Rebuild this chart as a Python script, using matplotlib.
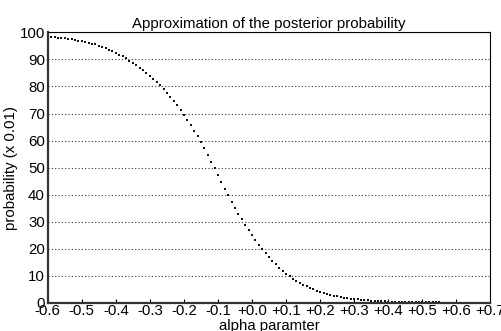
import numpy as np
import matplotlib
matplotlib.use('Agg')
import matplotlib.pyplot as plt

plt.rcParams['font.family'] = ['Liberation Sans', 'DejaVu Sans']

# alpha from -0.60 to +0.70 in steps of 0.01
alpha = np.round(np.arange(-60, 71) / 100.0, 2)
prob = [98.4, 98.3, 98.2, 98.1, 97.9, 97.8, 97.6, 97.4, 97.2, 97.0,
        96.8, 96.5, 96.2, 95.9, 95.6, 95.0, 94.6, 94.1, 93.6, 93.0,
        92.4, 91.8, 91.1, 90.4, 89.6, 88.8, 87.9, 87.0, 86.0, 85.0,
        83.9, 82.8, 81.6, 80.4, 79.0, 77.6, 76.1, 74.6, 73.0, 71.3,
        69.6, 67.7, 65.7, 63.6, 61.5, 59.4, 57.1, 54.7, 52.2, 49.7,
        47.2, 44.7, 42.2, 39.7, 37.4, 35.1, 32.9, 30.8, 28.7, 26.8,
        24.9, 23.1, 21.4, 19.8, 18.3, 16.9, 15.5, 14.2, 13.0, 11.9,
        10.8, 9.8, 8.9, 8.1, 7.3, 6.6, 6.0, 5.4, 4.9, 4.4,
        4.0, 3.6, 3.2, 2.9, 2.6, 2.3, 2.1, 1.9, 1.7, 1.5,
        1.35, 1.2, 1.08, 0.96, 0.86, 0.77, 0.68, 0.61, 0.54, 0.48,
        0.43, 0.38, 0.34, 0.30, 0.27, 0.24, 0.21, 0.19, 0.17, 0.15,
        0.13, 0.12, 0.11, 0.10, 0.09, 0.08, 0.07, 0.065, 0.06, 0.05,
        0.045, 0.04, 0.035, 0.03, 0.027, 0.024, 0.02, 0.017, 0.014, 0.012,
        0.01]

xticks = np.round(np.arange(-6, 8) / 10.0, 1)
xlabels = ['-0.6', '-0.5', '-0.4', '-0.3', '-0.2', '-0.1', '+0.0',
           '+0.1', '+0.2', '+0.3', '+0.4', '+0.5', '+0.6', '+0.7']
yticks = list(range(0, 101, 10))

fig = plt.figure(figsize=(5.01, 3.31), dpi=100)
ax = fig.add_axes([0.0952, 0.0855, 0.8838, 0.8165])

ax.plot(alpha, prob, linestyle='none', marker='s', markersize=1.8,
        markeredgewidth=0, color='#111111')

ax.set_xlim(-0.6, 0.7)
ax.set_ylim(0, 100)
ax.set_xticks(xticks)
ax.set_xticklabels(xlabels)
ax.set_yticks(yticks)
ax.yaxis.grid(True, linestyle=(0, (1, 2)), color='#333333', linewidth=0.8)
ax.tick_params(axis='x', direction='in', length=3, pad=1, labelsize=10.8)
ax.tick_params(axis='y', length=0, pad=2, labelsize=10.8)

for side in ['left', 'bottom']:
    ax.spines[side].set_linewidth(1.6)
    ax.spines[side].set_color('#333333')
for side in ['right', 'top']:
    ax.spines[side].set_linewidth(0.8)
    ax.spines[side].set_color('black')

ax.set_title('Approximation of the posterior probability', fontsize=10.8, pad=3)
ax.set_xlabel('alpha paramter', fontsize=10.8, labelpad=1)
ax.set_ylabel('probability (x 0.01)', fontsize=10.8, labelpad=1)

plt.savefig('out.png', dpi=100)
